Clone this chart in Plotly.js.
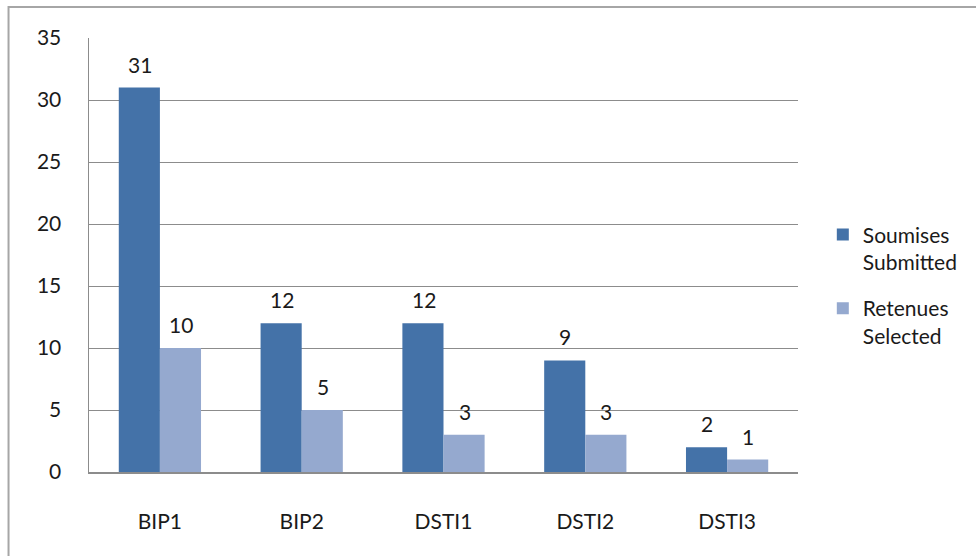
<!DOCTYPE html>
<html>
<head>
<meta charset="utf-8">
<script src="https://cdn.plot.ly/plotly-3.0.1.min.js"></script>
<style>html,body{margin:0;padding:0;background:#fff;}#chart{width:976px;height:556px;}</style>
</head>
<body>
<div id="chart"></div>
<script>
const categories = ["BIP1", "BIP2", "DSTI1", "DSTI2", "DSTI3"];
const submitted = [31, 12, 12, 9, 2];
const selected = [10, 5, 3, 3, 1];
const seriesNames = ["Soumises<br>Submitted", "Retenues<br>Selected"];
const yTicks = [0, 5, 10, 15, 20, 25, 30, 35];

const font = {family: "Lato, Open Sans, sans-serif", size: 21, color: "#1a1a1a"};
const colors = ["#4472A8", "#95A9CF"];

const traces = [submitted, selected].map((vals, i) => ({
  type: "bar",
  x: categories,
  y: vals,
  name: seriesNames[i],
  legendgroup: "g" + i,
  marker: {color: colors[i], line: {width: 0}},
  hoverinfo: "x+y"
}));

const annotations = [];
[submitted, selected].forEach((vals, i) => {
  vals.forEach((v, j) => {
    annotations.push({
      x: categories[j], y: v, xref: "x", yref: "y",
      text: String(v), showarrow: false,
      yanchor: "bottom", xanchor: "center",
      xshift: i === 0 ? -20 : 21, yshift: 9,
      font: font
    });
  });
});

const layout = {
  width: 976, height: 556,
  margin: {l: 89, r: 178, t: 38, b: 84},
  paper_bgcolor: "#fff", plot_bgcolor: "#fff",
  barmode: "group", bargap: 0.42, bargroupgap: 0,
  font: font,
  showlegend: true,
  legend: {x: 1.035, y: 0.43, xanchor: "left", yanchor: "middle",
           font: font, itemsizing: "constant", tracegroupgap: 16,
           traceorder: "grouped", itemwidth: 30, valign: "top"},
  xaxis: {showgrid: false, showline: true, linecolor: "#8c8c8c", linewidth: 1.5,
          ticks: "", ticklabelstandoff: 30, tickfont: font, fixedrange: true},
  yaxis: {range: [0, 35], tickvals: yTicks, showgrid: true, gridcolor: "#8c8c8c", gridwidth: 1,
          showline: true, linecolor: "#8c8c8c", linewidth: 1.5, zeroline: false,
          ticks: "", ticklabelstandoff: 22, tickfont: font, fixedrange: true},
  annotations: annotations,
  shapes: [{type: "rect", xref: "paper", yref: "paper",
            x0: -0.1135, y0: -0.5, x1: 1.5, y1: 1.0714,
            line: {color: "#a6a6a6", width: 2}, layer: "below"}]
};

Plotly.newPlot("chart", traces, layout, {displayModeBar: false, staticPlot: true});
</script>
</body>
</html>
